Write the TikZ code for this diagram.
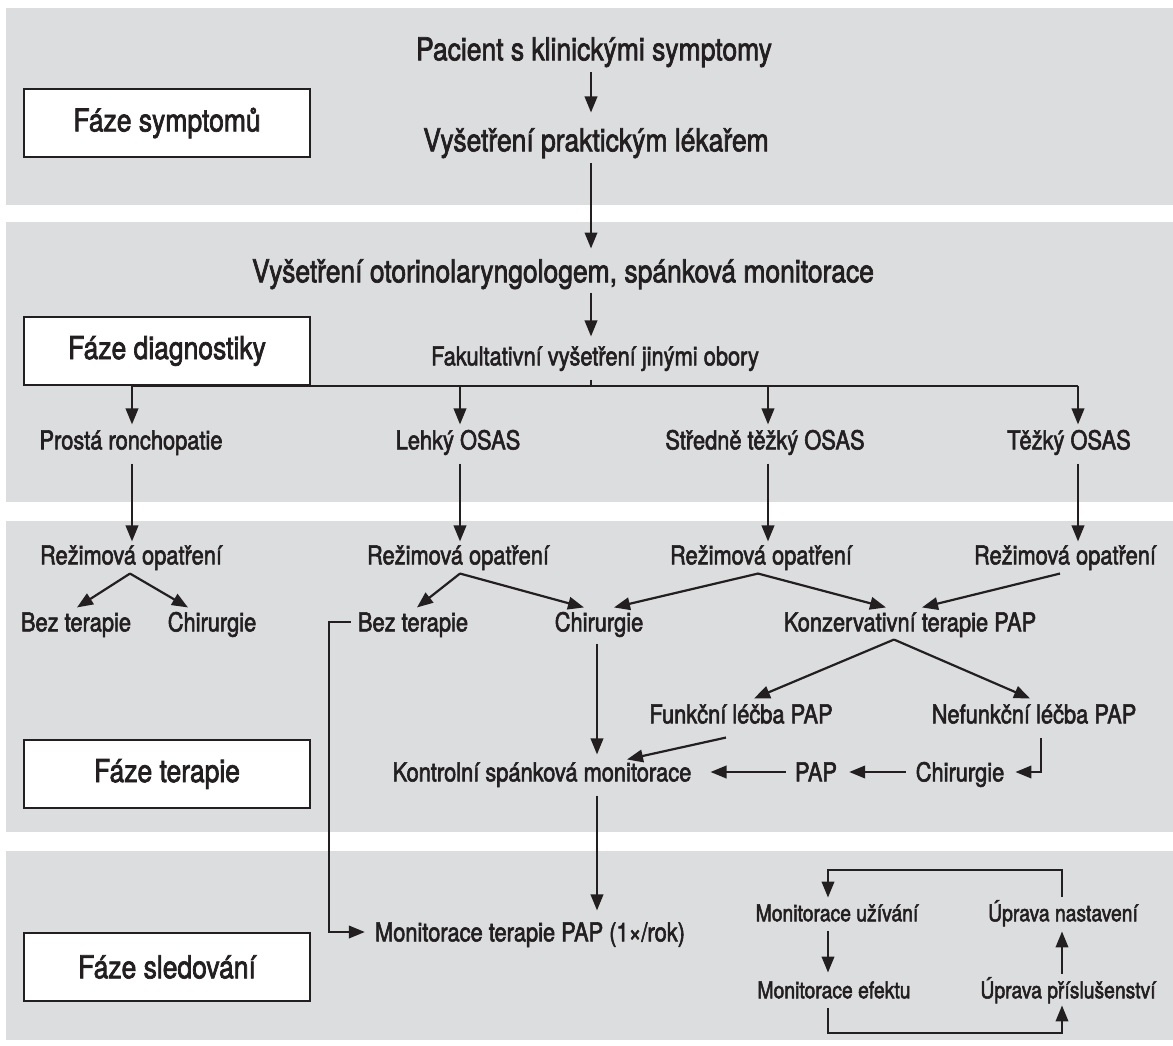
\documentclass[tikz,border=0pt]{standalone}
\usepackage{fontspec}
\setmainfont{TeX Gyre Heros}[FakeStretch=0.84,FakeBold=2.2]
\usetikzlibrary{arrows.meta,calc}
\definecolor{band}{HTML}{DCDDDF}
\definecolor{ink}{HTML}{231F20}
\begin{document}
\begin{tikzpicture}[x=1pt,y=-1pt,
  big/.style={font=\fontsize{31.5}{36}\selectfont, inner sep=0pt, text=ink, text height=22.6pt, text depth=0pt},
  med/.style={font=\fontsize{26}{30}\selectfont, inner sep=0pt, text=ink, text height=18.7pt, text depth=0pt},
  sm/.style={font=\fontsize{23}{27}\selectfont, inner sep=0pt, text=ink, text height=16.5pt, text depth=0pt},
  phase/.style={draw=ink, line width=2.3pt, fill=white, minimum width=286pt, minimum height=68pt, inner sep=0pt,
    font=\fontsize{31.5}{36}\selectfont, text=ink},
  arr/.style={draw=ink, line width=2.2pt, -{Triangle[length=16pt,width=12.5pt]}},
  ln/.style={draw=ink, line width=2.2pt}]
\useasboundingbox (0,0) rectangle (1173,1046);
\fill[white] (0,0) rectangle (1173,1046);
% bands
\fill[band] (6,8) rectangle (1173,205);
\fill[band] (6,222) rectangle (1173,502);
\fill[band] (6,521) rectangle (1173,832);
\fill[band] (6,851) rectangle (1173,1040);
% phase boxes
\node[phase] (ph1) at (167,123) {Fáze symptomů};
\node[phase] (ph2) at (167,351) {Fáze diagnostiky};
\node[phase] (ph3) at (167,774) {Fáze terapie};
\node[phase] (ph4) at (167,967) {Fáze sledování};
% column x references
\coordinate (cx) at (591,0);
\coordinate (c1) at (132,0);
\coordinate (c2) at (460,0);
\coordinate (c3) at (768,0);
\coordinate (c4) at (1078,0);
\coordinate (cc) at (597,0);
% main column
\node[big] (p1) at (594,49) {Pacient s klinickými symptomy};
\node[big] (p2) at (596,140) {Vyšetření praktickým lékařem};
\node[big] (p3) at (563,271) {Vyšetření otorinolaryngologem, spánková monitorace};
\node[med] (p4) at (595,356) {Fakultativní vyšetření jinými obory};
\draw[arr] (p1.south -| cx) ++(0,12) -- ($(p2.north -| cx)+(0,-16)$);
\draw[arr] (p2.south -| cx) ++(0,12) -- ($(p3.north -| cx)+(0,-11)$);
\draw[arr] (p3.south -| cx) ++(0,10) -- ($(p4.north -| cx)+(0,-10)$);
\coordinate (hb) at (591,386);
\draw[ln] (p4.south -| cx) ++(0,14) -- (hb);
\draw[ln] (hb -| c1) -- (hb -| c4);
% severity row
\node[med] (s1) at (131,440) {Prostá ronchopatie};
\node[med] (s2) at (458,440) {Lehký OSAS};
\node[med] (s3) at (765,440) {Středně těžký OSAS};
\node[med] (s4) at (1069,440) {Těžký OSAS};
\foreach \c/\s in {c1/s1,c2/s2,c3/s3,c4/s4}{
  \draw[arr] (hb -| \c) -- ($(\s.north -| \c)+(0,-6)$);
}
% regimen row
\node[med] (r1) at (131,555) {Režimová opatření};
\node[med] (r2) at (458,555) {Režimová opatření};
\node[med] (r3) at (761,555) {Režimová opatření};
\node[med] (r4) at (1065,555) {Režimová opatření};
\foreach \c/\s/\r in {c1/s1/r1,c2/s2/r2,c3/s3/r3,c4/s4/r4}{
  \draw[arr] ($(\s.south -| \c)+(0,14)$) -- ($(\r.north -| \c)+(0,-4)$);
}
% treatment row
\node[med] (b1) at (76,622) {Bez terapie};
\node[med] (h1) at (212,622) {Chirurgie};
\node[med] (b2) at (413,622) {Bez terapie};
\node[med] (h2) at (599,622) {Chirurgie};
\node[med] (k) at (910,622) {Konzervativní terapie PAP};
\coordinate (a1) at ($(r1.south)+(-1,9)$);
\coordinate (a2) at ($(r2.south)+(2,9)$);
\coordinate (a3) at ($(r3.south)+(-3,9)$);
\coordinate (a4) at ($(r4.south)+(-5,9)$);
\draw[arr] (a1) -- ($(b1.north)+(1,-5)$);
\draw[arr] (a1) -- ($(h1.north)+(-24,-5)$);
\draw[arr] (a2) -- ($(b2.north)+(4,-5)$);
\draw[arr] (a2) -- ($(h2.north)+(-15,-5)$);
\draw[arr] (a3) -- ($(h2.north)+(15,-5)$);
\draw[arr] (a3) -- ($(k.north)+(-24,-5)$);
\draw[arr] (a4) -- ($(k.north)+(12,-5)$);
% PAP outcomes
\node[med] (f) at (741,714) {Funkční léčba PAP};
\node[med] (nf) at (1034,714) {Nefunkční léčba PAP};
\coordinate (ka) at ($(k.south)+(-16,8)$);
\draw[arr] (ka) -- ($(f.north)+(13,-6)$);
\draw[arr] (ka) -- ($(nf.north)+(-4,-6)$);
% control row
\node[med] (kc) at (542,772) {Kontrolní spánková monitorace};
\node[med] (pap) at (816,772) {PAP};
\node[med] (ch) at (960,772) {Chirurgie};
\draw[arr] ($(f.south)+(-15,14)$) -- ($(kc.north)+(85,-3)$);
\draw[arr] ($(h2.south -| cc)+(0,12)$) -- ($(kc.north -| cc)+(0,-8)$);
\draw[arr] ($(pap.west)+(-9,0)$) -- ($(kc.east)+(19,0)$);
\draw[arr] ($(ch.west)+(-10,0)$) -- ($(pap.east)+(12,0)$);
\coordinate (nfx) at ($(nf.south)+(7,14)$);
\draw[arr] (nfx) |- ($(ch.east)+(11,0)$);
% follow-up
\node[med] (mt) at (530,932) {Monitorace terapie PAP (1×/rok)};
\draw[arr] ($(kc.south -| cc)+(0,14)$) -- ($(mt.north -| cc)+(0,-12)$);
\coordinate (bz) at (329,0);
\draw[arr] ($(b2.west)+(-7,0)$) -- (b2.west -| bz) -- (mt.west -| bz) -- ($(mt.west)+(-10,0)$);
% cycle
\node[sm] (mu) at (837,913) {Monitorace užívání};
\node[sm] (un) at (1063,913) {Úprava nastavení};
\node[sm] (me) at (834,990) {Monitorace efektu};
\node[sm] (up) at (1068,990) {Úprava příslušenství};
\coordinate (cl) at (828,0);
\coordinate (cr) at (1062,0);
\coordinate (ytop) at (0,870);
\coordinate (ybot) at (0,1033);
\draw[arr] ($(un.north -| cr)+(0,-8)$) -- (ytop -| cr) -- (ytop -| cl) -- ($(mu.north -| cl)+(0,-7)$);
\draw[arr] ($(mu.south -| cl)+(0,10)$) -- ($(me.north -| cl)+(0,-9)$);
\draw[arr] ($(me.south -| cl)+(0,10)$) -- (ybot -| cl) -- (ybot -| cr) -- ($(up.south -| cr)+(0,7)$);
\draw[arr] ($(up.north -| cr)+(0,-8)$) -- ($(un.south -| cr)+(0,10)$);
\end{tikzpicture}
\end{document}
